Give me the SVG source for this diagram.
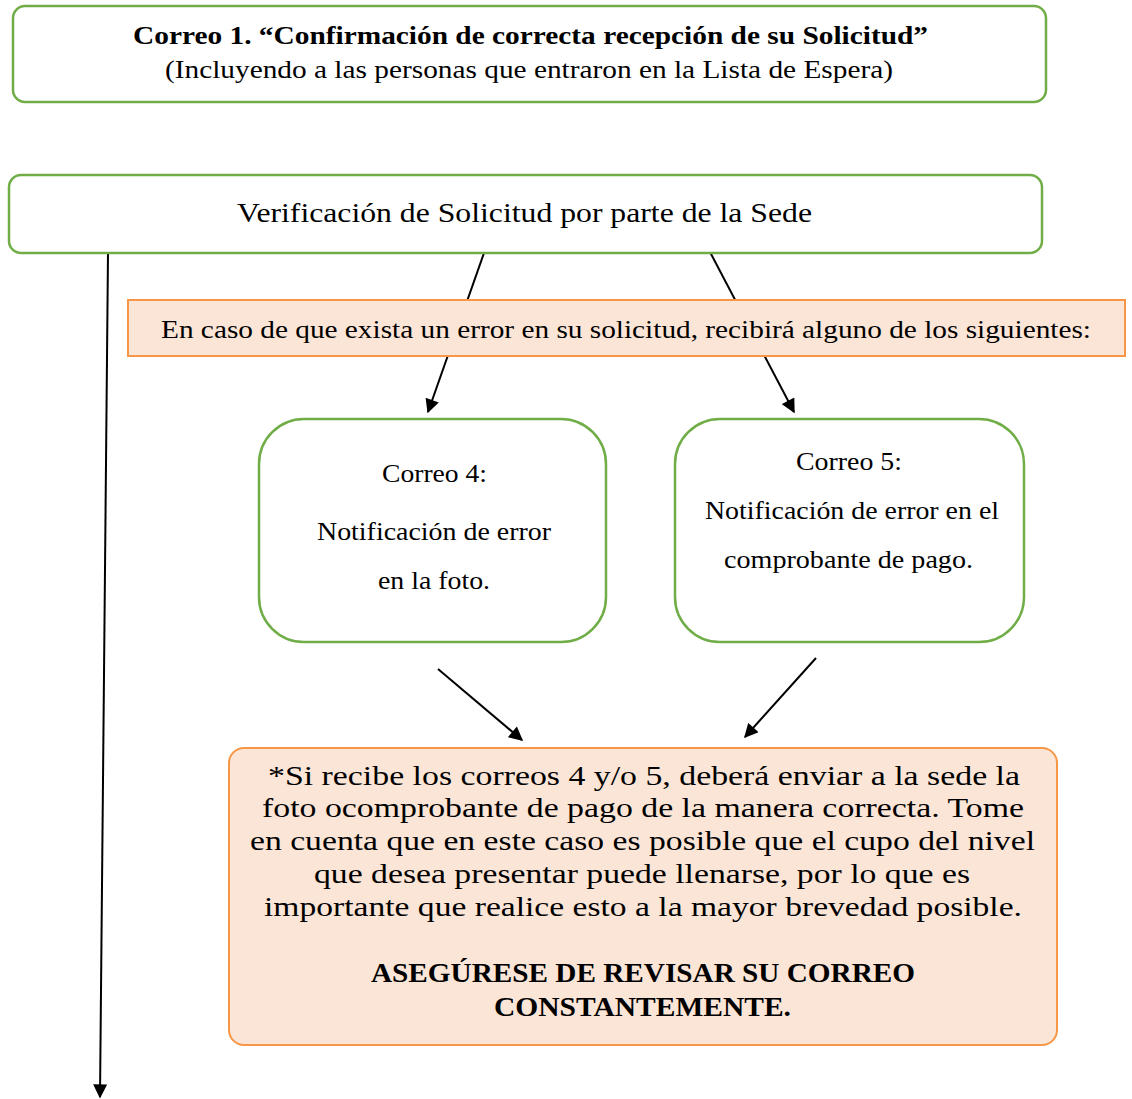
<svg xmlns="http://www.w3.org/2000/svg" width="1132" height="1099" viewBox="0 0 1132 1099">
<style>
text{font-family:"Liberation Serif","Times New Roman",serif;fill:#000;text-anchor:middle}
.g{fill:#fff;stroke:#70AD47;stroke-width:2.5}
.o{fill:#FBE5D6;stroke:#F79646;stroke-width:2}
.c{stroke:#000;stroke-width:2;fill:none;marker-end:url(#ah)}
</style>
<defs>
<marker id="ah" viewBox="0 0 10 10" refX="9" refY="5" markerWidth="16" markerHeight="14" markerUnits="userSpaceOnUse" orient="auto"><path d="M0,0L10,5L0,10z" fill="#000"/></marker>
</defs>
<g id="connectors">
<path class="c" d="M484,253L428,412"/>
<path class="c" d="M710,252L794,412"/>
<path class="c" d="M108,253L100,1097"/>
<path class="c" d="M438,669L522,740"/>
<path class="c" d="M816,658L745,737"/>
</g>
<g id="correo1">
<rect class="g" x="13" y="6" width="1033" height="96" rx="12"/>
<text x="530.5" y="44" font-size="26" font-weight="bold" textLength="795" lengthAdjust="spacingAndGlyphs">Correo 1. “Confirmación de correcta recepción de su Solicitud”</text>
<text x="529" y="78" font-size="25" textLength="728" lengthAdjust="spacingAndGlyphs">(Incluyendo a las personas que entraron en la Lista de Espera)</text>
</g>
<g id="verificacion">
<rect class="g" x="9" y="175" width="1033" height="78" rx="12"/>
<text x="524.5" y="222" font-size="28" textLength="575" lengthAdjust="spacingAndGlyphs">Verificación de Solicitud por parte de la Sede</text>
</g>
<g id="aviso">
<rect class="o" x="128" y="300" width="997" height="56"/>
<text x="626" y="338" font-size="25" textLength="930" lengthAdjust="spacingAndGlyphs">En caso de que exista un error en su solicitud, recibirá alguno de los siguientes:</text>
</g>
<g id="correo4">
<rect class="g" x="259" y="419" width="347" height="223" rx="45"/>
<text x="434.5" y="482" font-size="25" textLength="105" lengthAdjust="spacingAndGlyphs">Correo 4:</text>
<text x="434" y="540" font-size="25" textLength="234" lengthAdjust="spacingAndGlyphs">Notificación de error</text>
<text x="434" y="589" font-size="25" textLength="112" lengthAdjust="spacingAndGlyphs">en la foto.</text>
</g>
<g id="correo5">
<rect class="g" x="675" y="419" width="349" height="223" rx="45"/>
<text x="849" y="470" font-size="25" textLength="106" lengthAdjust="spacingAndGlyphs">Correo 5:</text>
<text x="852" y="519" font-size="25" textLength="294" lengthAdjust="spacingAndGlyphs">Notificación de error en el</text>
<text x="848.5" y="568" font-size="25" textLength="249" lengthAdjust="spacingAndGlyphs">comprobante de pago.</text>
</g>
<g id="nota">
<rect class="o" x="229" y="748" width="828" height="297" rx="15"/>
<text x="644" y="785" font-size="27" textLength="752" lengthAdjust="spacingAndGlyphs">*Si recibe los correos 4 y/o 5,  deberá enviar a la sede la</text>
<text x="643" y="817" font-size="27" textLength="762" lengthAdjust="spacingAndGlyphs">foto ocomprobante de pago de la manera correcta. Tome</text>
<text x="642.5" y="850" font-size="27" textLength="785" lengthAdjust="spacingAndGlyphs">en cuenta que en este caso es posible que el cupo del nivel</text>
<text x="642" y="883" font-size="27" textLength="656" lengthAdjust="spacingAndGlyphs">que desea presentar puede llenarse, por lo que es</text>
<text x="643" y="916" font-size="27" textLength="758" lengthAdjust="spacingAndGlyphs">importante que realice esto a la mayor brevedad posible.</text>
<text x="643" y="982" font-size="27" font-weight="bold" textLength="544" lengthAdjust="spacingAndGlyphs">ASEGÚRESE DE REVISAR SU CORREO</text>
<text x="642.5" y="1016" font-size="27" font-weight="bold" textLength="297" lengthAdjust="spacingAndGlyphs">CONSTANTEMENTE.</text>
</g>
</svg>
